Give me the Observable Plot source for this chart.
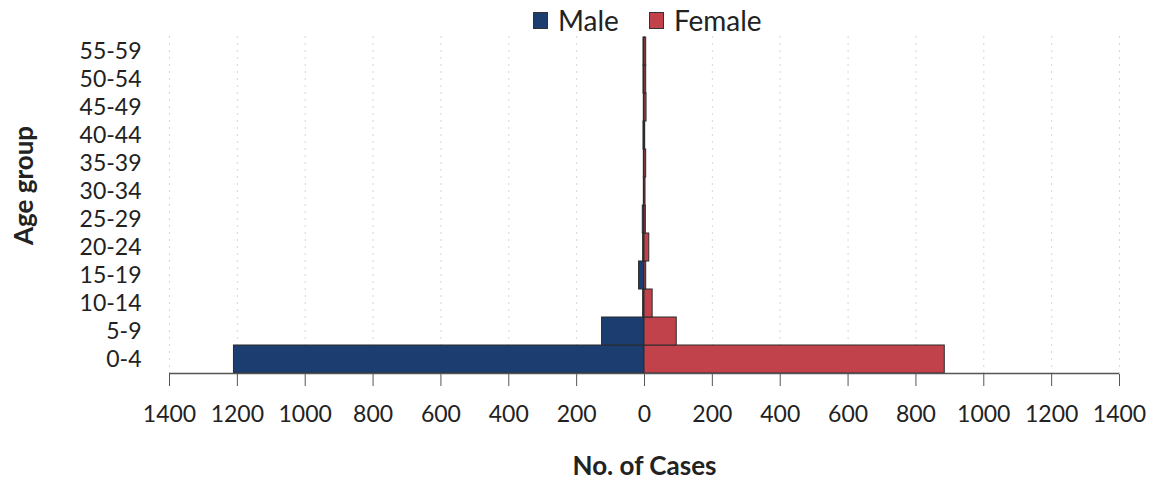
<!DOCTYPE html>
<html>
<head>
<meta charset="utf-8">
<script src="https://cdn.jsdelivr.net/npm/d3@7"></script>
<script src="https://cdn.jsdelivr.net/npm/@observablehq/plot@0.6"></script>
<style>
  body { margin: 0; background: #fff; font-family: Lato, "Open Sans", sans-serif; }
  #wrap { position: relative; width: 1159px; height: 488px; }
  #legend { position: absolute; top: 3px; left: 533px; display: flex; align-items: center; font-size: 28px; color: #222; }
  .item { display: flex; align-items: center; margin-right: 30px; }
  .sw { width: 15px; height: 17px; margin-right: 10px; border: 1px solid #333; box-sizing: border-box; }
</style>
</head>
<body>
<div id="wrap">
  <div id="legend"></div>
  <div id="chart"></div>
</div>
<script>
const ageGroups = ["0-4","5-9","10-14","15-19","20-24","25-29","30-34","35-39","40-44","45-49","50-54","55-59"];
const maleCases   = [1210, 125, 4, 16, 4, 5, 2, 2, 3, 2, 3, 3];
const femaleCases = [885, 95, 24, 5, 14, 4, 3, 5, 2, 6, 5, 5];
const xTicks = [-1400,-1200,-1000,-800,-600,-400,-200,0,200,400,600,800,1000,1200,1400];
const seriesNames = ["Male", "Female"];
const seriesColors = ["#1b3d70", "#c2424c"];

const rows = [];
ageGroups.forEach((g, i) => {
  rows.push({age: g, sex: "Male", value: -maleCases[i]});
  rows.push({age: g, sex: "Female", value: femaleCases[i]});
});

const legend = document.getElementById("legend");
seriesNames.forEach((n, i) => {
  const it = document.createElement("div");
  it.className = "item";
  it.innerHTML = `<span class="sw" style="background:${seriesColors[i]}"></span><span>${n}</span>`;
  legend.appendChild(it);
});

const fmt = d => String(Math.abs(d));

const chart = Plot.plot({
  width: 1159,
  height: 488,
  marginLeft: 169,
  marginRight: 40,
  marginTop: 36,
  marginBottom: 114,
  style: {fontFamily: "Lato, 'Open Sans', sans-serif", fontSize: "22px", color: "#222", background: "transparent"},
  x: {domain: [-1400, 1400], label: null},
  y: {domain: ageGroups.slice().reverse(), padding: 0, label: null},
  color: {domain: seriesNames, range: seriesColors},
  marks: [
    Plot.gridX(xTicks, {stroke: "#bbb", strokeDasharray: "2,5", strokeOpacity: 0.6}),
    Plot.barX(rows, {y: "age", x1: 0, x2: "value", fill: "sex", stroke: "#2a2a2a", strokeWidth: 1}),
    Plot.ruleY([ageGroups[0]], {x1: -1400, x2: 1400, dy: 14, stroke: "#555", strokeWidth: 1.5}),
    Plot.axisX({ticks: xTicks, tickFormat: fmt, tickSize: 12, tickPadding: 19, stroke: "#555", fontSize: 23, label: null}),
    Plot.axisY({tickSize: 0, tickPadding: 28, fontSize: 23, label: null}),
    Plot.text(["No. of Cases"], {frameAnchor: "bottom", dy: 100, fontSize: 26, fontWeight: "bold"}),
    Plot.text(["Age group"], {frameAnchor: "left", textAnchor: "middle", dx: -145, dy: -20, rotate: -90, fontSize: 26, fontWeight: "bold"})
  ]
});
document.getElementById("chart").appendChild(chart);
</script>
</body>
</html>
